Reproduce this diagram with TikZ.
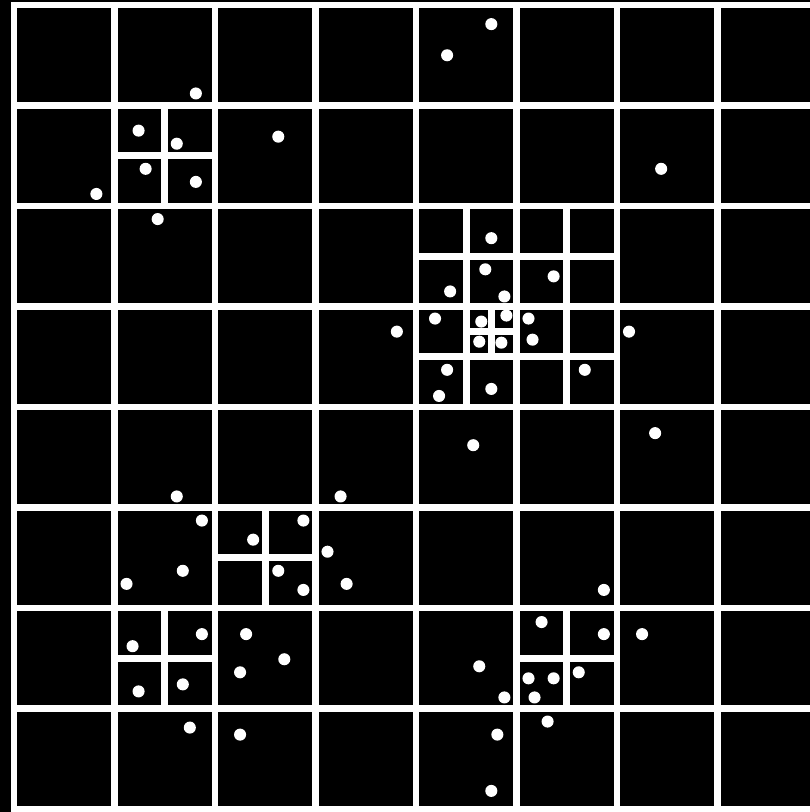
\documentclass[tikz,border=0pt]{standalone}
\usepackage{tikz}
\begin{document}
\begin{tikzpicture}[ln/.style={white,line width=.066cm,line cap=rect},dot/.style={white}]
\useasboundingbox(-.139,-.03)rectangle(7.92,8.05);
\fill[black](-.139,-.03)rectangle(7.92,8.05);
\draw[ln](0,0)grid(8,8);
% split cells
\foreach\x/\y in{1/6,4/4,4/5,5/4,5/5,2/2,1/1,5/1}{\draw[ln](\x+.5,\y)--(\x+.5,\y+1)(\x,\y+.5)--(\x+1,\y+.5);}
\draw[ln](4.75,4.5)--(4.75,5)(4.5,4.75)--(5,4.75);
% points
\foreach\x/\y in{1.81/7.12,1.24/6.75,1.62/6.62,1.31/6.37,1.81/6.24,.82/6.12,1.43/5.87,2.63/6.69,4.31/7.50,4.75/7.81,6.44/6.37,
4.75/5.68,4.69/5.37,5.37/5.30,4.34/5.15,4.88/5.10,4.19/4.88,4.90/4.91,4.65/4.85,5.12/4.88,4.63/4.65,4.85/4.64,5.16/4.67,6.12/4.75,3.81/4.75,4.31/4.37,5.68/4.37,4.23/4.11,4.75/4.18,4.57/3.62,6.38/3.74,
1.62/3.11,3.25/3.11,1.87/2.87,2.88/2.87,2.38/2.68,3.12/2.56,1.68/2.37,1.12/2.24,2.63/2.37,2.88/2.18,3.31/2.24,1.87/1.74,2.31/1.74,1.18/1.62,2.69/1.49,2.25/1.36,1.68/1.24,1.24/1.17,1.75/.81,2.25/.74,
5.87/2.18,5.25/1.86,5.87/1.74,6.25/1.74,4.63/1.42,5.62/1.36,5.12/1.30,5.37/1.30,4.88/1.11,5.18/1.11,5.31/.87,4.81/.74,4.75/.18}
\fill[dot](\x,\y)circle(.06);
\end{tikzpicture}
\end{document}
